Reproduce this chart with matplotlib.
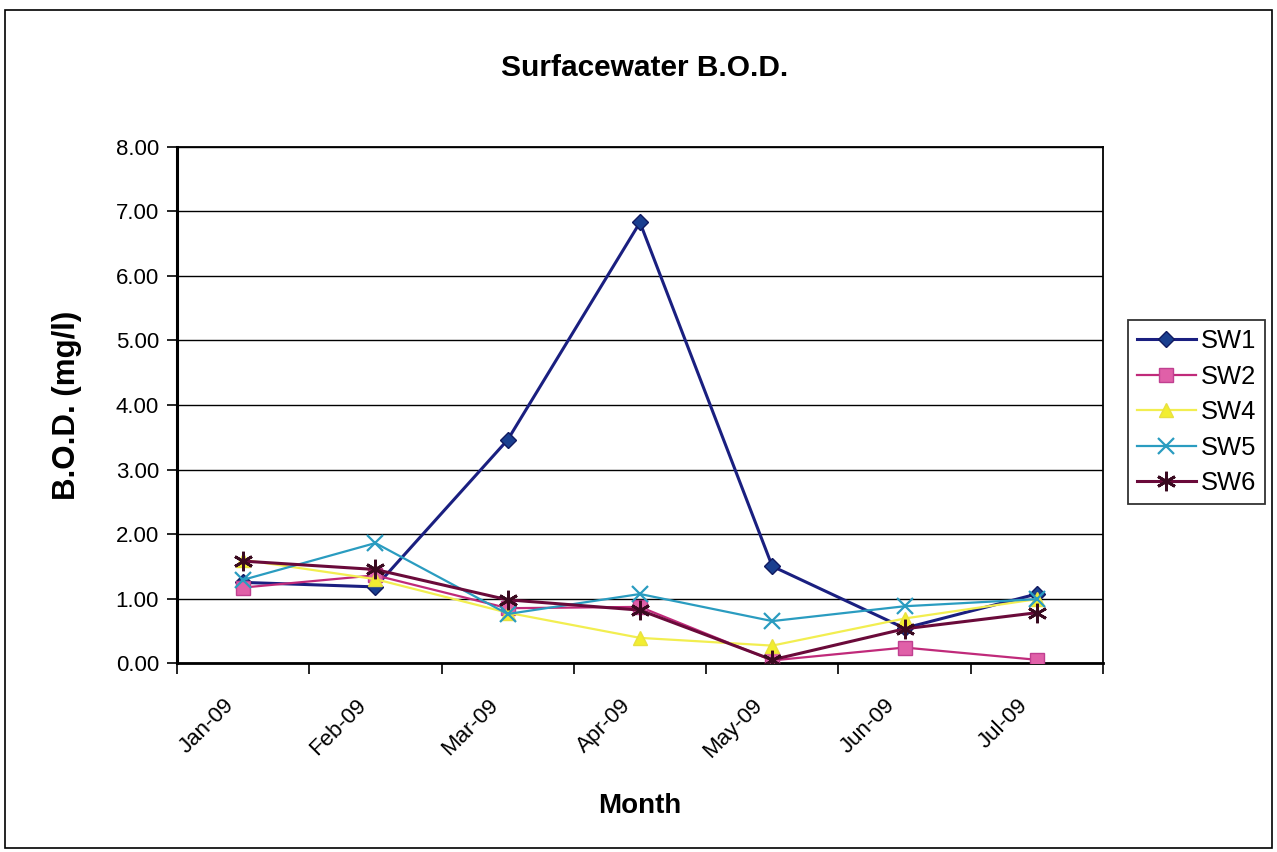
import matplotlib
matplotlib.use("Agg")
import matplotlib.pyplot as plt
from matplotlib.patches import Rectangle
from matplotlib.transforms import ScaledTranslation
import numpy as np

plt.rcParams['font.family'] = ['Liberation Sans', 'DejaVu Sans']

# Data
months = ["Jan-09", "Feb-09", "Mar-09", "Apr-09", "May-09", "Jun-09", "Jul-09"]
sw1 = [1.25, 1.18, 3.46, 6.83, 1.50, 0.54, 1.07]
sw2 = [1.17, 1.36, 0.85, 0.87, 0.04, 0.24, 0.05]
sw4 = [1.60, 1.30, 0.78, 0.39, 0.27, 0.69, 0.99]
sw5 = [1.29, 1.86, 0.76, 1.07, 0.65, 0.88, 0.99]
sw6 = [1.58, 1.45, 0.98, 0.82, 0.05, 0.53, 0.78]

x = np.arange(len(months))

fig = plt.figure(figsize=(12.77, 8.52), dpi=100)
ax = fig.add_axes([0.1386, 0.2218, 0.7251, 0.6057])

ax.plot(x, sw1, color='#1a1f80', lw=2.2, marker='D', ms=8, mfc='#1a3f8f', mec='#101a60', label='SW1', zorder=3)
ax.plot(x, sw2, color='#c02a7a', lw=1.6, marker='s', ms=10, mfc='#e060a8', mec='#c04090', label='SW2', zorder=3)
ax.plot(x, sw4, color='#f2ee50', lw=1.6, marker='^', ms=10, mfc='#f2ee30', mec='#e8e040', label='SW4', zorder=3)
ax.plot(x, sw5, color='#2a9cc0', lw=1.6, marker='x', ms=11, mew=1.6, label='SW5', zorder=3)
ax.plot(x, sw6, color='#6a0a3a', lw=2.2, marker=(6, 2, 0), ms=14, mew=2.0, mec='#3a0a20', label='SW6', zorder=3)

ax.set_xlim(-0.5, len(months) - 0.5)
ax.set_ylim(0, 8)
yt = np.arange(0, 8.01, 1)
ax.set_yticks(yt)
ax.set_yticklabels([f"{v:.2f}" for v in yt], fontsize=16)
ax.yaxis.grid(True, color='black', lw=1.0)
ax.set_axisbelow(True)

# boundary ticks for categories, labels at centers
ax.set_xticks(np.arange(-0.5, len(months), 1))
ax.set_xticklabels([])
ax.set_xticks(x, minor=True)
ax.set_xticklabels(months, minor=True, rotation=45, ha='right', rotation_mode='anchor', fontsize=16)
ax.tick_params(axis='x', which='minor', length=0, pad=12)
ax.tick_params(axis='x', which='major', length=8, width=1.2, direction='out')
ax.tick_params(axis='y', length=7, width=1.2, direction='out', pad=6)
shift = ScaledTranslation(-0.2, -0.15, fig.dpi_scale_trans)
for lbl in ax.get_xticklabels(minor=True):
    lbl.set_transform(lbl.get_transform() + shift)

for s in ax.spines.values():
    s.set_linewidth(1.3)
    s.set_color('black')
ax.spines['left'].set_linewidth(2.2)
ax.spines['bottom'].set_linewidth(2.0)

ax.set_ylabel("B.O.D. (mg/l)", fontsize=22.5, fontweight='bold', labelpad=24)
ax.set_xlabel("Month", fontsize=20, fontweight='bold', labelpad=22)
fig.text(0.505, 0.92, "Surfacewater B.O.D.", ha='center', va='center', fontsize=21.5, fontweight='bold')

leg = ax.legend(loc='center left', bbox_to_anchor=(1.027, 0.486), borderaxespad=0, fontsize=18.4,
                frameon=True, fancybox=False, edgecolor='black', borderpad=0.35, labelspacing=0.45,
                handlelength=2.3, handletextpad=0.2)
leg.get_frame().set_linewidth(1.3)

# outer chart border
fig.patches.append(Rectangle((0.004, 0.005), 0.992, 0.983, transform=fig.transFigure,
                             fill=False, edgecolor='black', lw=1.2))

fig.savefig("out.png", dpi=100)
